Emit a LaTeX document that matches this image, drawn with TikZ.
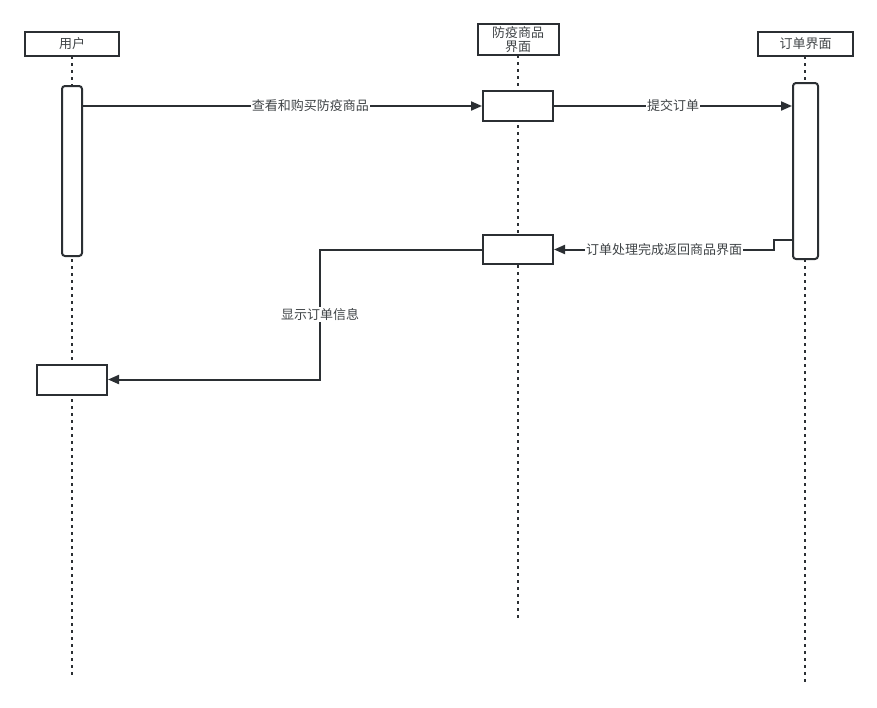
\documentclass[tikz,border=0pt]{standalone}
\usepackage{fontspec}
\setmainfont{Noto Sans CJK SC}
\usetikzlibrary{arrows.meta,positioning,calc}
\definecolor{ink}{HTML}{2B2F33}
\tikzset{
  actor/.style={draw=ink, line width=2pt, fill=white, align=center, minimum width=94pt, minimum height=24pt, inner sep=1pt, font=\fontsize{13}{14.5}\selectfont, text=ink!90},
  act/.style={draw=ink, line width=2pt, fill=white, minimum width=70pt, minimum height=30pt, inner sep=0pt},
  bar/.style={draw=ink, line width=2pt, fill=white, rounded corners=3pt, minimum width=20pt, inner sep=0pt},
  life/.style={draw=ink, line width=2.2pt, dash pattern=on 3pt off 4pt},
  msg/.style={draw=ink, line width=2pt, -{Triangle[length=11pt,width=9pt]}},
  lbl/.style={fill=white, inner sep=1pt, font=\fontsize{13}{13}\selectfont, text=ink!90},
}
\begin{document}
\begin{tikzpicture}[x=1pt, y=-1pt]
  \useasboundingbox (0,0) rectangle (877,707);

  % Lifelines
  \draw[life] (72,56) -- (72,678);
  \draw[life] (518,55) -- (518,618);
  \draw[life] (805,56) -- (805,683);

  % Participants
  \node[actor] (user) at (72,43.5) {用户};
  \node[actor, minimum width=81pt, minimum height=31pt] (shop) at (518,39.5) {防疫商品\\界面};
  \node[actor, minimum width=95pt] (order) at (805.5,43.5) {订单界面};

  % Activations
  \node[bar, minimum height=170pt] (userAct) at (72,171) {};
  \node[act] (userAct2) at (72,379.5) {};
  \node[act] (shopAct1) at (518,106) {};
  \node[act, minimum height=29pt] (shopAct2) at (518,249.5) {};
  \node[bar, minimum width=25pt, minimum height=176pt] (orderAct) at (805.5,171) {};

  \coordinate (bend) at (774,240);
  \coordinate (turn) at (320,0);

  % Messages
  \draw[msg] (userAct.east |- shopAct1.west) -- node[lbl, pos=0.57]{查看和购买防疫商品} (shopAct1.west);
  \draw[msg] (shopAct1.east) -- node[lbl]{提交订单} (orderAct.west |- shopAct1.east);
  \draw[msg] (orderAct.west |- bend) -- (bend) -- (bend |- shopAct2.east) -- node[lbl]{订单处理完成返回商品界面} (shopAct2.east);
  \draw[msg] (shopAct2.west) -- (shopAct2.west -| turn) -- node[lbl, pos=0.5]{显示订单信息} (userAct2.east -| turn) -- (userAct2.east);
\end{tikzpicture}
\end{document}
